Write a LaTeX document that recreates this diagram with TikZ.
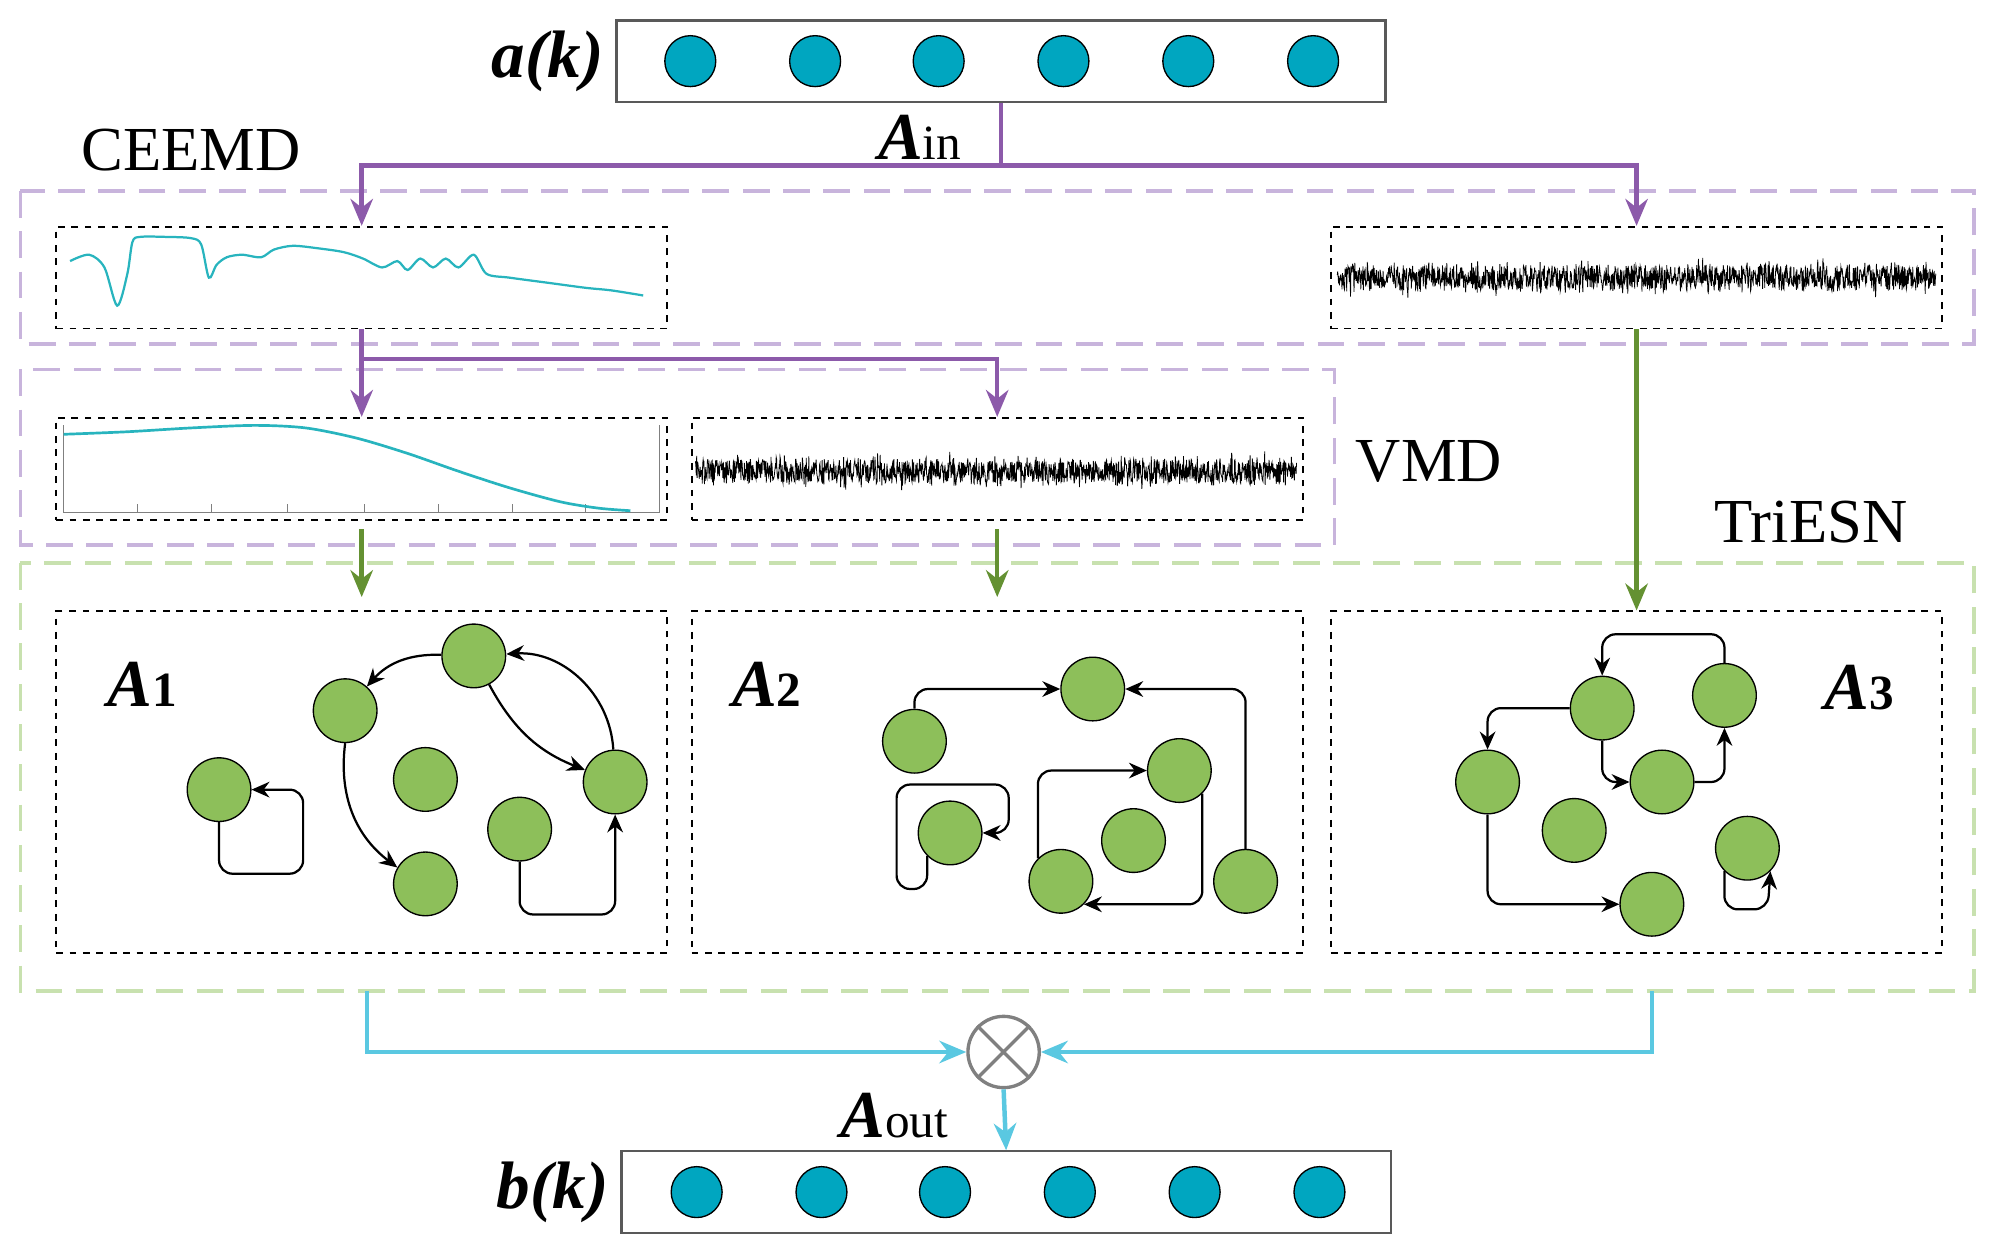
\documentclass[tikz,border=0pt]{standalone}
\usepackage{fontspec}
\setmainfont{Liberation Serif}
\usetikzlibrary{arrows.meta,shapes.misc}
\definecolor{sigc}{RGB}{40,180,190}
\definecolor{cyf}{RGB}{0,166,192}
\definecolor{grf}{RGB}{141,191,90}
\definecolor{pur}{RGB}{140,90,170}
\definecolor{purl}{RGB}{200,180,220}
\definecolor{grl}{RGB}{200,225,175}
\definecolor{grd}{RGB}{100,145,50}
\definecolor{cyl}{RGB}{90,200,225}
\begin{document}
\begin{tikzpicture}[x=0.02cm,y=0.02cm,
 cyc/.style={circle,draw=black,line width=0.6pt,fill=cyf,minimum size=0.8cm,inner sep=0},
 gc/.style={circle,draw=black,line width=0.6pt,fill=grf,minimum size=1cm,inner sep=0},
 vec/.style={draw=gray!70!black,line width=1pt,minimum width=12.08cm,minimum height=1.28cm},
 bx/.style={draw=black,dashed,line width=0.8pt,minimum width=9.6cm},
 grp/.style={line width=1.5pt,dash pattern=on 12pt off 6pt},
 pu/.style={draw=pur,line width=2pt},
 pua/.style={pu,-{Stealth[length=12pt,width=10pt]}},
 gr/.style={draw=grd,line width=2pt,-{Stealth[length=12pt,width=10pt]}},
 cy/.style={draw=cyl,line width=2pt},
 cya/.style={cy,-{Stealth[length=12pt,width=10pt]}},
 ar/.style={draw=black,line width=1pt,rounded corners=6pt,-{Stealth[length=8pt,width=7pt]}},
 lab/.style={font=\fontsize{30}{30}\selectfont\bfseries\itshape},
 big/.style={font=\fontsize{28}{28}\selectfont}]
\useasboundingbox (0,0) rectangle (1568,-984);
\draw[grp,draw=purl] (16,-150) rectangle (1550,-270);
\draw[grp,draw=purl] (16,-290) rectangle (1048,-428);
\draw[grp,draw=grl] (16,-442) rectangle (1550,-778);
\node[big] (tc) at (150,-118) {CEEMD};
\node[big] (tv) at (1122,-362) {VMD};
\node[big] (tt) at (1422,-410) {TriESN};
\node[vec] (top) at (786,-48) {};
\foreach \x [count=\i] in {542,640,737,835,933,1031} \node[cyc] (a\i) at (\x,-48) {};
\node[lab,anchor=east] (ak) at (480,-48) {a(k)};
\node[vec] (bot) at (790,-936) {};
\foreach \x [count=\i] in {547,645,742,840,938,1036} \node[cyc] (b\i) at (\x,-936) {};
\node[lab,anchor=east] (bk) at (484,-936) {b(k)};
\node[bx,minimum height=1.6cm] (s1) at (284,-218) {};
\node[bx,minimum height=1.6cm] (s2) at (1285,-218) {};
\node[bx,minimum height=1.6cm] (v1) at (284,-368) {};
\node[bx,minimum height=1.6cm] (v2) at (783,-368) {};
\node[bx,minimum height=5.36cm] (g1) at (284,-614) {};
\node[bx,minimum height=5.36cm] (g2) at (783,-614) {};
\node[bx,minimum height=5.36cm] (g3) at (1285,-614) {};
\draw[sigc,line width=1pt] plot[smooth] coordinates{(55,-205)(70,-200)(82,-210)(92,-240)(100,-215)(104,-190)(110,-186)(130,-186)(150,-187)(158,-192)(164,-218)(170,-208)(178,-202)(190,-200)(205,-202)(215,-196)(230,-193)(250,-195)(270,-198)(285,-203)(300,-210)(312,-205)(320,-212)(330,-203)(340,-210)(350,-203)(360,-210)(372,-200)(382,-215)(400,-218)(430,-222)(460,-226)(480,-228)(505,-232)};
\draw[gray,line width=0.4pt] (50,-334) -- (50,-402) -- (518,-402) -- (518,-334);
\foreach \x in {108,166,226,286,344,402,460} \draw[gray,line width=0.4pt] (\x,-402) -- (\x,-396);
\draw[sigc,line width=1.2pt] plot[smooth] coordinates{(50,-341)(100,-339)(150,-336)(200,-334)(240,-336)(280,-344)(320,-356)(360,-370)(400,-383)(440,-394)(470,-399)(495,-401)};
\pgfmathsetseed{7}
\draw[black,line width=0.35pt] plot[domain=1050:1520,samples=1400] (\x,{-218+10*rand+10*rand*rand*rand});
\draw[black,line width=0.35pt] plot[domain=546:1018,samples=1400] (\x,{-370+10*rand+10*rand*rand*rand});
\coordinate (sp) at (786,-130);
\draw[pu] (top.south) -- (sp);
\draw[pua] (sp) -| (s1.north);
\draw[pua] (sp) -| (s2.north);
\node[font=\fontsize{30}{30}\selectfont] (ain) at (722,-108) {\textbf{\textit{A}}\fontsize{22}{22}\selectfont in};
\coordinate (sp2) at (284,-282);
\draw[pua] (s1.south) -- (v1.north);
\draw[pua] (sp2) -| (v2.north);
\draw[gr] (s2.south) -- (g3.north);
\draw[gr,shorten <=4pt,shorten >=6pt] (v1.south) -- (g1.north);
\draw[gr,shorten <=4pt,shorten >=6pt] (v2.south) -- (g2.north);
\node[circle,draw=gray,line width=1.5pt,minimum size=1.12cm,inner sep=0] (oc) at (788,-826) {};
\draw[gray,line width=1.5pt] (oc.north east) -- (oc.south west) (oc.north west) -- (oc.south east);
\coordinate (c1) at (288,-778);
\coordinate (c2) at (1297,-778);
\draw[cya] (c1) |- (oc.west);
\draw[cya] (c2) |- (oc.east);
\draw[cya] (oc.south) -- (bot.north);
\node[font=\fontsize{30}{30}\selectfont] (aout) at (702,-876) {\textbf{\textit{A}}\fontsize{22}{22}\selectfont out};
\node[font=\fontsize{30}{30}\selectfont] (l1) at (112,-537) {\textbf{\textit{A}}\textbf{\fontsize{22}{22}\selectfont 1}};
\node[gc] (n1) at (372,-515) {};
\node[gc] (n2) at (271,-558) {};
\node[gc] (n3) at (172,-620) {};
\node[gc] (n4) at (334,-612) {};
\node[gc] (n5) at (483,-614) {};
\node[gc] (n6) at (408,-651) {};
\node[gc] (n7) at (334,-694) {};
\draw[ar] (n1) to[bend right=25] (n2);
\draw[ar] (n2.south) to[bend right=30] (n7);
\draw[ar] (n1) to[bend right=20] (n5);
\draw[ar] (n5) to[bend right=45] (n1);
\draw[ar] (n3.south) |- (238,-686) |- (n3.east);
\draw[ar] (n6.south) |- (483,-718) -- (n5.south);
\node[font=\fontsize{30}{30}\selectfont] (l2) at (602,-537) {\textbf{\textit{A}}\textbf{\fontsize{22}{22}\selectfont 2}};
\node[gc] (m1) at (858,-541) {};
\node[gc] (m2) at (718,-582) {};
\node[gc] (m3) at (746,-654) {};
\node[gc] (m4) at (926,-605) {};
\node[gc] (m5) at (890,-660) {};
\node[gc] (m6) at (833,-692) {};
\node[gc] (m7) at (978,-692) {};
\draw[ar] (m2.north) |- (m1.west);
\draw[ar] (m7.north) |- (m1.east);
\draw[ar] (m3.south west) |- (704,-698) |- (792,-616) |- (m3.east);
\draw[ar] (m6.north west) |- (m4.west);
\draw[ar] (m4.south east) |- (m6.south east);
\node[font=\fontsize{30}{30}\selectfont] (l3) at (1460,-540) {\textbf{\textit{A}}\textbf{\fontsize{22}{22}\selectfont 3}};
\node[gc] (p1) at (1258,-556) {};
\node[gc] (p2) at (1354,-546) {};
\node[gc] (p3) at (1168,-614) {};
\node[gc] (p4) at (1305,-614) {};
\node[gc] (p5) at (1236,-652) {};
\node[gc] (p6) at (1372,-666) {};
\node[gc] (p7) at (1297,-710) {};
\draw[ar] (p2.north) |- (1258,-498) -- (p1.north);
\draw[ar] (p1.west) -| (p3.north);
\draw[ar] (p1.south) |- (p4.west);
\draw[ar] (p4.east) -| (p2.south);
\draw[ar] (p3.south) |- (p7.west);
\draw[ar] (p6.south west) |- (1388,-714) -- (p6.south east);
\end{tikzpicture}
\end{document}
